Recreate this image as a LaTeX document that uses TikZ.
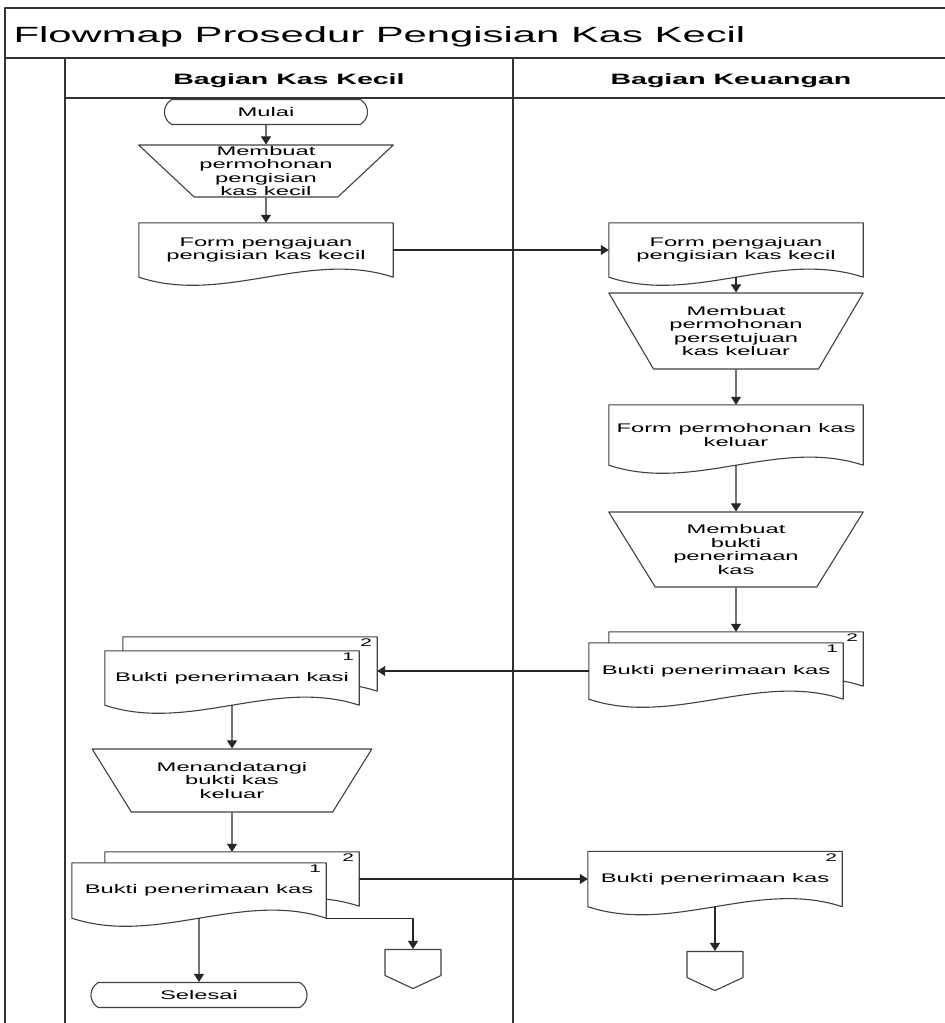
\documentclass[tikz,border=0pt]{standalone}
\usepackage{fontspec}
\setmainfont{Liberation Sans}[FakeStretch=1.9]
\usetikzlibrary{shapes.geometric,shapes.misc,shapes.symbols,arrows.meta,calc}
\begin{document}
\begin{tikzpicture}[x=1pt,y=-1pt,>={Triangle[length=8pt,width=10pt]},line join=round,
	frame/.style={draw=black!80,line width=1.4pt},
	shp/.style={draw=black!75,line width=1.1pt,fill=white},
	txt/.style={font=\fontsize{12.5}{13.5}\selectfont,align=center,inner sep=0pt},
	conn/.style={->,draw=black!85,line width=1.1pt},
	terminal/.style={shp,txt,rounded rectangle,rounded rectangle arc length=120,minimum height=25,minimum width=#1},
	manual/.style={shp,txt,trapezium,shape border rotate=180,trapezium stretches=true,trapezium left angle=#1,trapezium right angle=#1},
	doc/.style={txt,minimum width=254,minimum height=#1,
		append after command={\pgfextra{
			\draw[shp] (\tikzlastnode.south west) -- (\tikzlastnode.north west) -- (\tikzlastnode.north east) -- (\tikzlastnode.south east)
				.. controls ($(\tikzlastnode.south east)!1/3!(\tikzlastnode.south west)+(0,-28)$) and ($(\tikzlastnode.south west)!1/3!(\tikzlastnode.south east)+(0,28)$) .. (\tikzlastnode.south west) -- cycle;
		}}},
	copyno/.style={anchor=north east,inner xsep=5pt,inner ysep=2pt,font=\fontsize{11}{12}\selectfont},
	offpage/.style={shp,signal,signal to=south,signal pointer angle=130,minimum width=56,minimum height=26,inner sep=0pt},
	lanehead/.style={anchor=base,font=\bfseries\fontsize{15}{18}\selectfont}]
	%	\draw[color=gray!50,dashed] (0,0) grid[step=50] (945,1023);
	\useasboundingbox (0,0) rectangle (945,1023);
	\draw[frame] (5,1023) -- (5,8) -- (945,8);
	\draw[frame] (5,58) -- (945,58);
	\draw[frame] (65,58) -- (65,1023);
	\draw[frame] (513,58) -- (513,1023);
	\draw[frame] (65,98) -- (945,98);
	\node[anchor=base west,font=\fontsize{22}{26}\selectfont] (judul) at (10,42) {Flowmap Prosedur Pengisian Kas Kecil};
	\node[lanehead] (kaskecil) at (289,84) {Bagian Kas Kecil};
	\node[lanehead] (keuangan) at (731,84) {Bagian Keuangan};
	% bagian kas kecil
	\node[terminal=203] (mulai) at (266,112) {Mulai};
	\node[manual=44,minimum width=255,minimum height=52] (buat1) at (266,171) {Membuat\\permohonan\\pengisian\\kas kecil};
	\node[doc=54] (form1) at (266,250) {Form pengajuan\\pengisian kas kecil};
	% bagian keuangan
	\node[doc=54] (form2) at (736,250) {Form pengajuan\\pengisian kas kecil};
	\node[manual=54,minimum width=255,minimum height=76] (buat2) at (736,331) {Membuat\\permohonan\\persetujuan\\kas keluar};
	\node[doc=60] (form3) at (736,435) {Form permohonan kas\\keluar};
	\node[manual=54,minimum width=255,minimum height=75] (buat3) at (736,549.5) {Membuat\\bukti\\penerimaan\\kas};
	\node[doc=54,label={[copyno]north east:2}] (buktiA2) at (736,659) {};
	\node[doc=56,label={[copyno]north east:1}] (buktiA1) at (716,671) {Bukti penerimaan kas};
	% kembali ke kas kecil
	\node[doc=54,label={[copyno]north east:2}] (buktiB2) at (250,664) {};
	\node[doc=54,label={[copyno]north east:1}] (buktiB1) at (232,678) {Bukti penerimaan kasi};
	\node[manual=51,minimum width=280,minimum height=63] (ttd) at (232,780.5) {Menandatangi\\bukti kas\\keluar};
	\node[doc=54,label={[copyno]north east:2}] (buktiC2) at (232,879) {};
	\node[doc=55,label={[copyno]north east:1}] (buktiC1) at (199,890.5) {Bukti penerimaan kas};
	\node[doc=55,label={[copyno]north east:2}] (buktiD) at (715,879) {Bukti penerimaan kas};
	\node[offpage] (keluar1) at (413,962.5) {};
	\node[offpage] (keluar2) at (715,964.5) {};
	\node[terminal=216] (selesai) at (199,995) {Selesai};
	% alur
	\draw[conn] (mulai) -- (buat1);
	\draw[conn] (buat1) -- (form1);
	\draw[conn] (form1) -- (form2);
	\draw[conn] (form2) -- (buat2);
	\draw[conn] (buat2) -- (form3);
	\draw[conn] (form3) -- (buat3);
	\draw[conn] (buat3) -- (buktiA2);
	\draw[conn] (buktiA1.west) -- (buktiA1.west -| buktiB2.east);
	\draw[conn] (buktiB1) -- (ttd);
	\draw[conn] (ttd) -- (buktiC2);
	\draw[conn] (buktiC2) -- (buktiD);
	\draw[conn] (buktiC1.south east) -| (keluar1);
	\draw[conn] (buktiC1) -- (selesai);
	\draw[conn] (buktiD) -- (keluar2);
\end{tikzpicture}
\end{document}
